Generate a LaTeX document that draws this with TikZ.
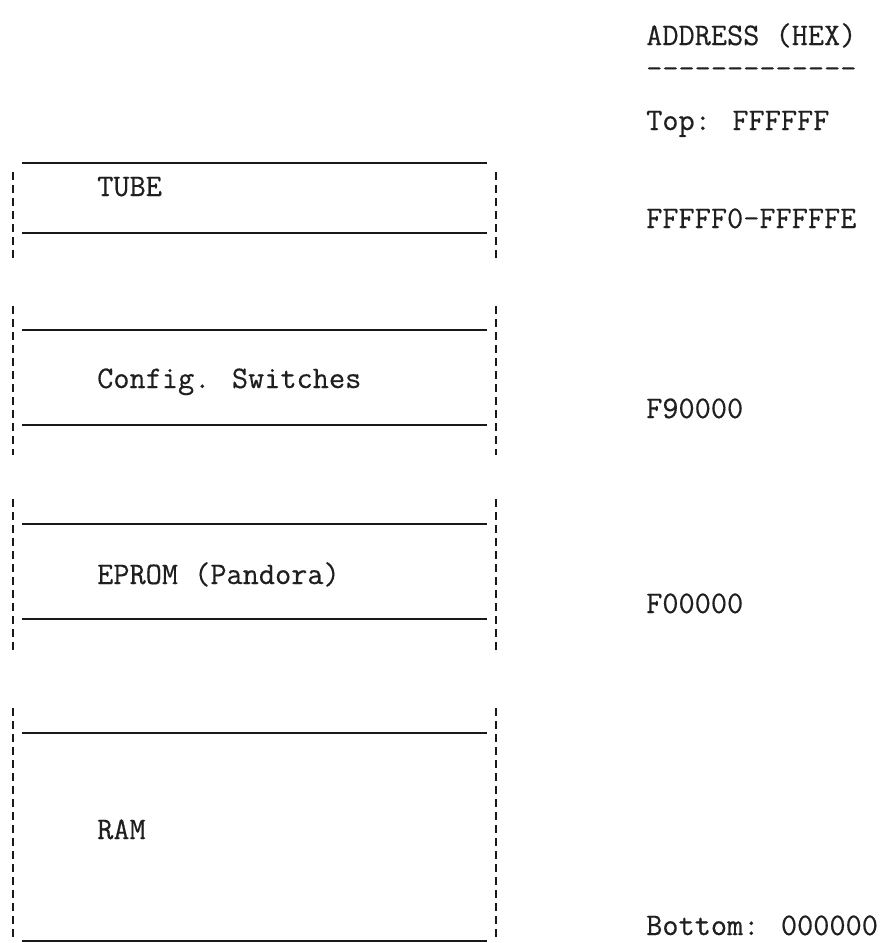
\documentclass[tikz,border=0pt]{standalone}
\usepackage{fontspec}
\newfontfamily\twfont{Latin Modern Mono}[FakeBold=0.4]
\begin{document}
\begin{tikzpicture}[x=1pt,y=-1pt,
  ink/.style={black!90},
  sep/.style={ink,line width=1.9pt},
  side/.style={ink,line width=2.7pt,dash pattern=on 7.5pt off 5.5pt},
  lbl/.style={inner sep=0pt,anchor=base west,font=\twfont\fontsize{31.4}{36}\selectfont,text=black!88}]
\useasboundingbox (0,0) rectangle (887,943);
% right column
\node[lbl] (hdr) at (646,45) {ADDRESS (HEX)};
\node[lbl] (rule) at (646,78) {{-}{-}{-}{-}{-}{-}{-}{-}{-}{-}{-}{-}{-}};
\node[lbl] (top) at (646,130) {Top: FFFFFF};
\node[lbl] (tubeaddr) at (646,228) {FFFFF0-FFFFFE};
\node[lbl] (cfgaddr) at (646,418) {F90000};
\node[lbl] (epromaddr) at (646,613) {F00000};
\node[lbl] (bot) at (646,935) {Bottom: 000000};
% block 1: TUBE
\draw[sep] (22,163) -- (487,163);
\draw[side] (13,172) -- (13,263);
\draw[side] (496,172) -- (496,263);
\draw[sep] (22,233) -- (487,233);
\node[lbl] (tube) at (97,196) {TUBE};
% block 2: Config. Switches
\draw[side] (13,306) -- (13,455);
\draw[side] (496,306) -- (496,455);
\draw[sep] (22,330) -- (487,330);
\draw[sep] (22,425) -- (487,425);
\node[lbl] (cfg) at (97,388) {Config. Switches};
% block 3: EPROM
\draw[side] (13,499) -- (13,650);
\draw[side] (496,499) -- (496,650);
\draw[sep] (22,524) -- (487,524);
\draw[sep] (22,619) -- (487,619);
\node[lbl] (eprom) at (97,584) {EPROM (Pandora)};
% block 4: RAM
\draw[side] (13,708) -- (13,941);
\draw[side] (496,708) -- (496,941);
\draw[sep] (22,733) -- (487,733);
\draw[sep] (22,941) -- (487,941);
\node[lbl] (ram) at (97,839) {RAM};
\end{tikzpicture}
\end{document}
